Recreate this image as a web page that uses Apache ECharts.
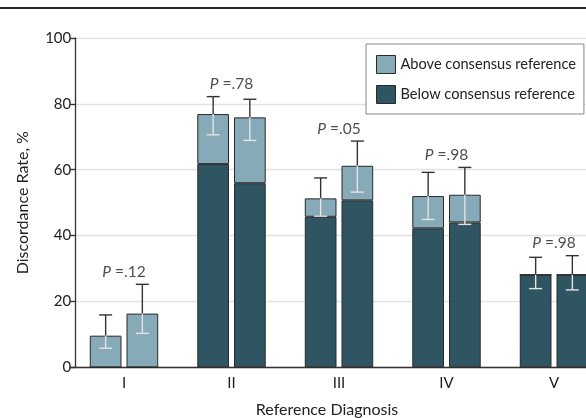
<!DOCTYPE html>
<html>
<head>
<meta charset="utf-8">
<script src="https://cdn.jsdelivr.net/npm/echarts@6/dist/echarts.min.js"></script>
<style>
html,body{margin:0;padding:0;background:#fff;}
#chart{width:586px;height:418px;}
</style>
</head>
<body>
<div id="chart"></div>
<script>
const categories = ['I', 'II', 'III', 'IV', 'V'];
const below1 = [0, 61.7, 45.7, 42.2, 28.1];
const above1 = [9.6, 15.2, 5.6, 9.8, 0];
const below2 = [0, 55.9, 50.7, 44.0, 28.1];
const above2 = [16.3, 20.0, 10.5, 8.4, 0];
const ciLow1 = [5.8, 70.6, 45.9, 44.9, 23.9];
const ciHigh1 = [15.9, 82.2, 57.5, 59.2, 33.4];
const ciLow2 = [10.3, 68.9, 53.2, 43.4, 23.5];
const ciHigh2 = [25.2, 81.4, 68.7, 60.7, 33.9];
const pValues = ['.12', '.78', '.05', '.98', '.98'];

const FONT = 'Lato';
const TEXT = '#222';
const LIGHT = '#86aab7';
const DARK = '#2f5562';
const BORDER = '#2a2a2a';
const BAR_W = 31.7;
const GAP = 5;
const OFF = (BAR_W + GAP) / 2;

const chart = echarts.init(document.getElementById('chart'));

function errRender(offset) {
  return function (params, api) {
    const idx = api.value(0);
    const x = api.coord([idx, 0])[0] + offset;
    const yLo = api.coord([idx, api.value(1)])[1];
    const yHi = api.coord([idx, api.value(2)])[1];
    const yTop = api.coord([idx, api.value(3)])[1];
    const cap = 6.5;
    const dark = { stroke: '#333', lineWidth: 1.4 };
    const light = { stroke: '#e4e4e4', lineWidth: 1.4 };
    return {
      type: 'group',
      children: [
        { type: 'line', shape: { x1: x, y1: yHi, x2: x, y2: yTop }, style: dark },
        { type: 'line', shape: { x1: x - cap, y1: yHi, x2: x + cap, y2: yHi }, style: dark },
        { type: 'line', shape: { x1: x, y1: yTop, x2: x, y2: yLo }, style: light },
        { type: 'line', shape: { x1: x - cap, y1: yLo, x2: x + cap, y2: yLo }, style: light }
      ]
    };
  };
}

const barBase = {
  type: 'bar',
  barWidth: BAR_W,
  barGap: (GAP / BAR_W * 100).toFixed(1) + '%'
};

const option = {
  animation: false,
  textStyle: { fontFamily: FONT },
  graphic: [
    { type: 'rect', left: 0, top: 7, shape: { width: 586, height: 2 }, style: { fill: '#2a2a2a' }, z: 100 }
  ],
  grid: { left: 70.25, top: 38, width: 537.5, height: 329.3, containLabel: false, outerBoundsMode: 'none' },
  legend: {
    orient: 'vertical',
    left: 366,
    top: 44,
    padding: [11, 8, 10, 10],
    itemGap: 11,
    itemWidth: 19,
    itemHeight: 18,
    backgroundColor: '#fff',
    borderColor: '#888',
    borderWidth: 1,
    borderRadius: 0,
    icon: 'rect',
    data: ['Above consensus reference', 'Below consensus reference'],
    textStyle: { fontFamily: FONT, fontSize: 14.6, color: TEXT },
    itemStyle: { borderColor: BORDER, borderWidth: 1 },
    z: 10
  },
  xAxis: {
    type: 'category',
    data: categories,
    axisLine: { lineStyle: { color: '#333', width: 1.3 } },
    axisTick: { show: false },
    axisLabel: { fontFamily: FONT, fontSize: 15, color: TEXT, margin: 8 },
    name: 'Reference Diagnosis',
    nameLocation: 'middle',
    nameGap: 35,
    nameTextStyle: { fontFamily: FONT, fontSize: 16, color: TEXT, padding: [0, 24, 0, 0] }
  },
  yAxis: {
    type: 'value',
    min: 0,
    max: 100,
    interval: 20,
    offset: -5,
    axisLine: { show: true, lineStyle: { color: '#333', width: 1.3 } },
    axisTick: { show: true, length: 5, lineStyle: { color: '#333', width: 1.3 } },
    axisLabel: { fontFamily: FONT, fontSize: 15, color: TEXT, margin: 4 },
    splitLine: { lineStyle: { color: '#e2e2e2', width: 1.3 } },
    name: 'Discordance Rate, %',
    nameLocation: 'middle',
    nameGap: 44,
    nameTextStyle: { fontFamily: FONT, fontSize: 16, color: TEXT }
  },
  series: [
    Object.assign({}, barBase, { name: 'Below consensus reference', stack: 'g1', data: below1, itemStyle: { color: DARK, borderColor: BORDER, borderWidth: 1 } }),
    Object.assign({}, barBase, { name: 'Above consensus reference', stack: 'g1', data: above1, itemStyle: { color: LIGHT, borderColor: BORDER, borderWidth: 1 } }),
    Object.assign({}, barBase, { name: 'Below consensus reference', stack: 'g2', data: below2, itemStyle: { color: DARK, borderColor: BORDER, borderWidth: 1 } }),
    Object.assign({}, barBase, { name: 'Above consensus reference', stack: 'g2', data: above2, itemStyle: { color: LIGHT, borderColor: BORDER, borderWidth: 1 } }),
    {
      type: 'custom',
      renderItem: errRender(-OFF),
      encode: { x: 0, y: [1, 2] },
      data: categories.map((c, i) => [i, ciLow1[i], ciHigh1[i], below1[i] + above1[i]]),
      z: 5
    },
    {
      type: 'custom',
      renderItem: errRender(OFF),
      encode: { x: 0, y: [1, 2] },
      data: categories.map((c, i) => [i, ciLow2[i], ciHigh2[i], below2[i] + above2[i]]),
      z: 5
    },
    {
      type: 'scatter',
      symbolSize: 1,
      itemStyle: { color: 'rgba(0,0,0,0)' },
      data: categories.map((c, i) => [i, Math.max(ciHigh1[i], ciHigh2[i])]),
      label: {
        show: true,
        position: 'top',
        distance: 4,
        formatter: (p) => '{i|P} =' + pValues[p.dataIndex],
        fontFamily: FONT,
        fontSize: 15.5,
        color: TEXT,
        rich: { i: { fontStyle: 'italic', fontFamily: FONT, fontSize: 15.5, color: TEXT } }
      },
      z: 6
    }
  ]
};
chart.setOption(option);
</script>
</body>
</html>
